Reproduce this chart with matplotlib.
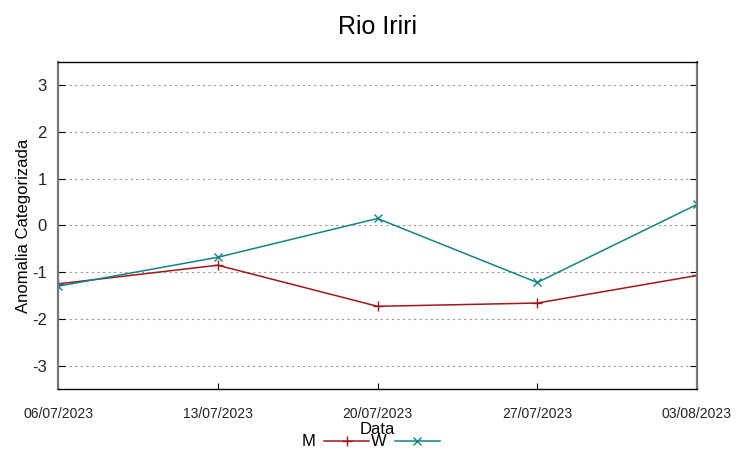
import matplotlib.pyplot as plt

plt.rcParams['font.family'] = ['Liberation Sans', 'DejaVu Sans']

# valores
datas = ['06/07/2023', '13/07/2023', '20/07/2023', '27/07/2023', '03/08/2023']
serie_m = [-1.25, -0.85, -1.73, -1.66, -1.07]
serie_w = [-1.30, -0.68, 0.15, -1.22, 0.45]
y_ticks = [-3, -2, -1, 0, 1, 2, 3]

fig = plt.figure(figsize=(7.52, 4.59), dpi=100)
ax = fig.add_axes([58/752, 1 - 389/459, (697 - 58)/752, (389 - 62)/459])

x = list(range(len(datas)))
ax.plot(x, serie_m, color='#a01818', lw=1.1, marker='+', ms=7, mew=1.0, label='M')
ax.plot(x, serie_w, color='#118585', lw=1.1, marker='x', ms=5.5, mew=1.0, label='W')

ax.set_xlim(0, len(datas) - 1)
ax.set_ylim(-3.5, 3.5)
ax.set_xticks(x)
ax.set_xticklabels(datas, fontsize=10, color='#222222')
ax.set_yticks(y_ticks)
ax.set_yticklabels([str(v) for v in y_ticks], fontsize=12, color='#222222')
ax.tick_params(axis='x', direction='in', length=4, pad=13, top=False)
ax.tick_params(axis='y', direction='in', length=5, pad=8, right=True)
ax.grid(axis='y', linestyle=(0, (2, 3)), color='#999999', lw=0.8)

for s in ['left', 'right']:
    ax.spines[s].set_color('#777777')
    ax.spines[s].set_linewidth(1.6)
for s in ['top', 'bottom']:
    ax.spines[s].set_color('black')
    ax.spines[s].set_linewidth(1.0)

ax.set_title('Rio Iriri', fontsize=18, pad=20)
ax.set_ylabel('Anomalia Categorizada', fontsize=12, labelpad=1)
fig.text(377/752, 1 - 430/459, 'Data', fontsize=12, ha='center', va='center')

fig.legend(loc='center', bbox_to_anchor=(371/752, 1 - 442/459), ncol=2,
           markerfirst=False, frameon=False, fontsize=12, handlelength=2.7,
           columnspacing=0.1, handletextpad=0.5, borderpad=0)

plt.savefig('out.png', dpi=100)
